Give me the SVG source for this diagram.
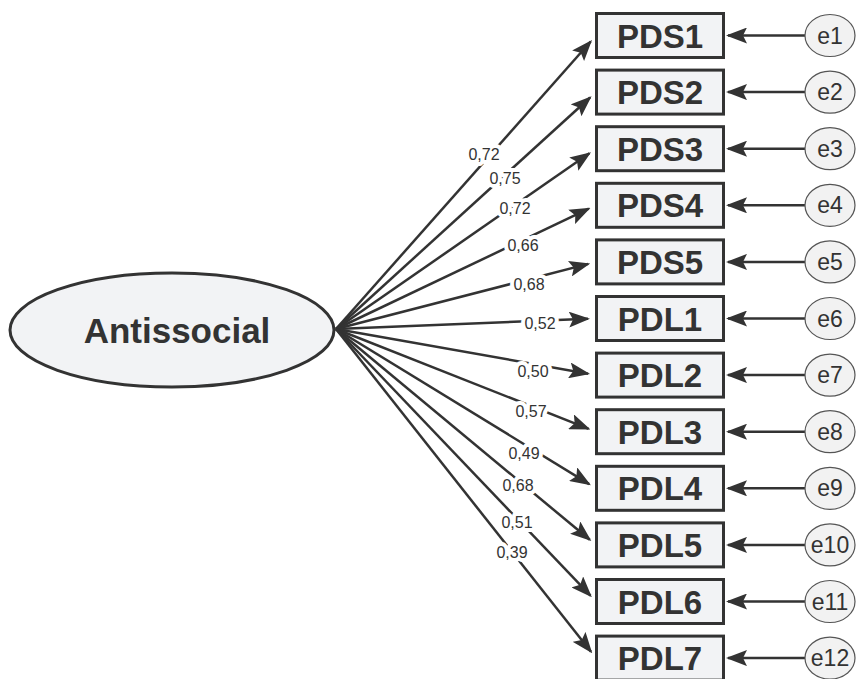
<svg xmlns="http://www.w3.org/2000/svg" width="856" height="679" viewBox="0 0 856 679">
<style>
.box{fill:#f2f3f5;stroke:#333;stroke-width:3}
.bt{font-family:"Liberation Sans",Arial,sans-serif;font-weight:bold;font-size:33px;fill:#333;text-anchor:middle}
.err{fill:#f2f2f2;stroke:#555;stroke-width:1.2}
.et{font-family:"Liberation Sans",Arial,sans-serif;font-size:23px;fill:#333;text-anchor:middle}
.ln{stroke:#333;stroke-width:2.5;fill:none;marker-end:url(#ah)}
.lb{font-family:"Liberation Sans",Arial,sans-serif;font-size:16px;fill:#333;text-anchor:middle;stroke:#fff;stroke-width:8;paint-order:stroke;stroke-linejoin:round}
</style>
<defs>
<marker id="ah" viewBox="0 0 21 16" refX="19" refY="8" markerWidth="21" markerHeight="16" markerUnits="userSpaceOnUse" orient="auto">
<path d="M0,0 L21,8 L0,16 L4,8 z" fill="#333"/>
</marker>
</defs>
<rect width="856" height="679" fill="#fff"/>
<g id="connectors">
<line class="ln" x1="336" y1="329" x2="590.7" y2="41.5"/>
<line class="ln" x1="336" y1="329" x2="590.1" y2="97.5"/>
<line class="ln" x1="336" y1="329" x2="589.4" y2="153.3"/>
<line class="ln" x1="336" y1="329" x2="588.8" y2="208.7"/>
<line class="ln" x1="336" y1="329" x2="588.3" y2="263.9"/>
<line class="ln" x1="336" y1="329" x2="588.0" y2="318.8"/>
<line class="ln" x1="336" y1="329" x2="588.1" y2="373.7"/>
<line class="ln" x1="336" y1="329" x2="588.6" y2="428.8"/>
<line class="ln" x1="336" y1="329" x2="589.2" y2="484.1"/>
<line class="ln" x1="336" y1="329" x2="589.8" y2="539.8"/>
<line class="ln" x1="336" y1="329" x2="590.5" y2="595.7"/>
<line class="ln" x1="336" y1="329" x2="591.0" y2="651.8"/>
<line class="ln" x1="805" y1="35.5" x2="728" y2="35.5"/>
<line class="ln" x1="805" y1="92.1" x2="728" y2="92.1"/>
<line class="ln" x1="805" y1="148.7" x2="728" y2="148.7"/>
<line class="ln" x1="805" y1="205.3" x2="728" y2="205.3"/>
<line class="ln" x1="805" y1="261.9" x2="728" y2="261.9"/>
<line class="ln" x1="805" y1="318.5" x2="728" y2="318.5"/>
<line class="ln" x1="805" y1="375.1" x2="728" y2="375.1"/>
<line class="ln" x1="805" y1="431.7" x2="728" y2="431.7"/>
<line class="ln" x1="805" y1="488.3" x2="728" y2="488.3"/>
<line class="ln" x1="805" y1="544.9" x2="728" y2="544.9"/>
<line class="ln" x1="805" y1="601.5" x2="728" y2="601.5"/>
<line class="ln" x1="805" y1="658.1" x2="728" y2="658.1"/>
<text class="lb" x="484" y="160">0,72</text>
<text class="lb" x="505" y="184">0,75</text>
<text class="lb" x="515" y="214">0,72</text>
<text class="lb" x="523" y="251">0,66</text>
<text class="lb" x="529" y="290">0,68</text>
<text class="lb" x="540" y="329">0,52</text>
<text class="lb" x="533" y="377">0,50</text>
<text class="lb" x="531" y="417">0,57</text>
<text class="lb" x="524" y="459">0,49</text>
<text class="lb" x="518" y="491">0,68</text>
<text class="lb" x="517" y="528">0,51</text>
<text class="lb" x="512" y="558">0,39</text>
</g>
<g id="antissocial">
<ellipse cx="172" cy="330" rx="162" ry="57" fill="#f2f3f5" stroke="#333" stroke-width="3"/>
<text x="177" y="343" font-family="Liberation Sans, Arial, sans-serif" font-weight="bold" font-size="35" fill="#333" text-anchor="middle">Antissocial</text>
</g>
<g id="PDS1"><rect class="box" x="596.5" y="13.5" width="127" height="44"/><text class="bt" x="660" y="47.5">PDS1</text></g>
<g id="PDS2"><rect class="box" x="596.5" y="70.1" width="127" height="44"/><text class="bt" x="660" y="104.1">PDS2</text></g>
<g id="PDS3"><rect class="box" x="596.5" y="126.7" width="127" height="44"/><text class="bt" x="660" y="160.7">PDS3</text></g>
<g id="PDS4"><rect class="box" x="596.5" y="183.3" width="127" height="44"/><text class="bt" x="660" y="217.3">PDS4</text></g>
<g id="PDS5"><rect class="box" x="596.5" y="239.9" width="127" height="44"/><text class="bt" x="660" y="273.9">PDS5</text></g>
<g id="PDL1"><rect class="box" x="596.5" y="296.5" width="127" height="44"/><text class="bt" x="660" y="330.5">PDL1</text></g>
<g id="PDL2"><rect class="box" x="596.5" y="353.1" width="127" height="44"/><text class="bt" x="660" y="387.1">PDL2</text></g>
<g id="PDL3"><rect class="box" x="596.5" y="409.7" width="127" height="44"/><text class="bt" x="660" y="443.7">PDL3</text></g>
<g id="PDL4"><rect class="box" x="596.5" y="466.3" width="127" height="44"/><text class="bt" x="660" y="500.3">PDL4</text></g>
<g id="PDL5"><rect class="box" x="596.5" y="522.9" width="127" height="44"/><text class="bt" x="660" y="556.9">PDL5</text></g>
<g id="PDL6"><rect class="box" x="596.5" y="579.5" width="127" height="44"/><text class="bt" x="660" y="613.5">PDL6</text></g>
<g id="PDL7"><rect class="box" x="596.5" y="636.1" width="127" height="44"/><text class="bt" x="660" y="670.1">PDL7</text></g>
<g id="e1"><ellipse class="err" cx="830" cy="35.5" rx="25" ry="21"/><text class="et" x="830" y="43.5">e1</text></g>
<g id="e2"><ellipse class="err" cx="830" cy="92.1" rx="25" ry="21"/><text class="et" x="830" y="100.1">e2</text></g>
<g id="e3"><ellipse class="err" cx="830" cy="148.7" rx="25" ry="21"/><text class="et" x="830" y="156.7">e3</text></g>
<g id="e4"><ellipse class="err" cx="830" cy="205.3" rx="25" ry="21"/><text class="et" x="830" y="213.3">e4</text></g>
<g id="e5"><ellipse class="err" cx="830" cy="261.9" rx="25" ry="21"/><text class="et" x="830" y="269.9">e5</text></g>
<g id="e6"><ellipse class="err" cx="830" cy="318.5" rx="25" ry="21"/><text class="et" x="830" y="326.5">e6</text></g>
<g id="e7"><ellipse class="err" cx="830" cy="375.1" rx="25" ry="21"/><text class="et" x="830" y="383.1">e7</text></g>
<g id="e8"><ellipse class="err" cx="830" cy="431.7" rx="25" ry="21"/><text class="et" x="830" y="439.7">e8</text></g>
<g id="e9"><ellipse class="err" cx="830" cy="488.3" rx="25" ry="21"/><text class="et" x="830" y="496.3">e9</text></g>
<g id="e10"><ellipse class="err" cx="830" cy="544.9" rx="25" ry="21"/><text class="et" x="830" y="552.9">e10</text></g>
<g id="e11"><ellipse class="err" cx="830" cy="601.5" rx="25" ry="21"/><text class="et" x="830" y="609.5">e11</text></g>
<g id="e12"><ellipse class="err" cx="830" cy="658.1" rx="25" ry="21"/><text class="et" x="830" y="666.1">e12</text></g>
</svg>
